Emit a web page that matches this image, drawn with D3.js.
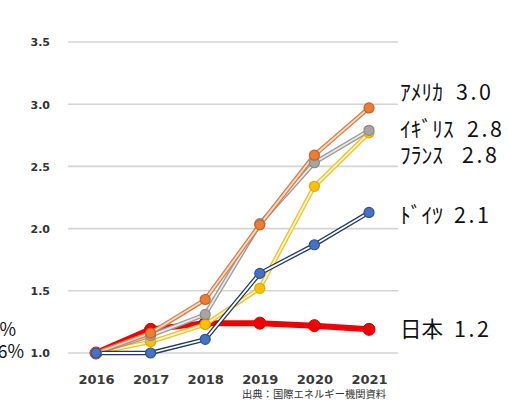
<!DOCTYPE html>
<html><head><meta charset="utf-8">
<script src="https://cdn.jsdelivr.net/npm/d3@7"></script>
<style>body{margin:0;background:#fff}svg{display:block}</style>
</head><body>
<script>
const years = ["2016","2017","2018","2019","2020","2021"];
const yTicks = [1.0, 1.5, 2.0, 2.5, 3.0, 3.5];
const japan   = [1.00, 1.19, 1.24, 1.24, 1.22, 1.19];
const america = [1.00, 1.16, 1.43, 2.03, 2.59, 2.97];
const uk      = [1.00, 1.14, 1.31, 2.04, 2.53, 2.79];
const france  = [1.00, 1.09, 1.23, 1.52, 2.34, 2.77];
const germany = [1.00, 1.00, 1.11, 1.64, 1.87, 2.13];
const labelNames = ["ｱﾒﾘｶ", "ｲｷﾞﾘｽ", "ﾌﾗﾝｽ", "ﾄﾞｲﾂ", "日本"];
const labelValues = ["3.0", "2.8", "2.8", "2.1", "1.2"];
const source = "出典：国際エネルギー機関資料";

const W = 508, H = 405;
const svg = d3.select("body").append("svg").attr("width", W).attr("height", H);

const x = d3.scalePoint().domain(years).range([96, 369]);
const y = d3.scaleLinear().domain([1.0, 3.5]).range([353, 42]);

// gridlines
svg.append("g").selectAll("line").data(yTicks).join("line")
  .attr("x1", 68).attr("x2", 398)
  .attr("y1", d => y(d)).attr("y2", d => y(d))
  .attr("stroke", "#d4d4d4").attr("stroke-width", 1.6);

// y axis labels
const yAxis = d3.axisLeft(y).tickValues(yTicks).tickFormat(d3.format(".1f")).tickSize(0).tickPadding(0);
svg.append("g").attr("transform", "translate(50,0)").call(yAxis)
  .call(g => g.select(".domain").remove())
  .selectAll("text").attr("font-family", "DejaVu Sans").attr("font-weight", "bold")
  .attr("font-size", 11).attr("fill", "#333").attr("dy", "0.36em");

// x axis labels
const xAxis = d3.axisBottom(x).tickSize(0).tickPadding(0);
svg.append("g").attr("transform", "translate(0,372)").call(xAxis)
  .call(g => g.select(".domain").remove())
  .selectAll("text").attr("font-family", "DejaVu Sans").attr("font-weight", "bold")
  .attr("font-size", 13).attr("fill", "#3a3a3a").attr("dy", "0.9em");

const line = d3.line().x((d, i) => x(years[i])).y(d => y(d));

// Japan (drawn first, thick red)
svg.append("path").attr("d", line(japan)).attr("fill", "none")
  .attr("stroke", "#f00000").attr("stroke-width", 6).attr("stroke-linejoin", "round");
svg.append("g").selectAll("circle").data(japan).join("circle")
  .attr("cx", (d, i) => x(years[i])).attr("cy", d => y(d)).attr("r", 6)
  .attr("fill", "#f00000").attr("stroke", "#d00000").attr("stroke-width", 1);

const series = [
  {v: france,  outer: "#f2c12e", inner: "#fff6c8", fill: "#ffc000", stroke: "#e0a800"},
  {v: uk,      outer: "#9a9a9a", inner: "#e8e8e8", fill: "#a5a5a5", stroke: "#8a8a8a"},
  {v: america, outer: "#d8804a", inner: "#f7dac6", fill: "#ed7d31", stroke: "#c4622a"},
  {v: germany, outer: "#1f3864", inner: "#ffffff", fill: "#4472c4", stroke: "#2f528f"}
];

series.forEach(s => {
  svg.append("path").attr("d", line(s.v)).attr("fill", "none")
    .attr("stroke", s.outer).attr("stroke-width", 4.4).attr("stroke-linejoin", "round");
  svg.append("path").attr("d", line(s.v)).attr("fill", "none")
    .attr("stroke", s.inner).attr("stroke-width", 1.8).attr("stroke-linejoin", "round");
});
series.forEach(s => {
  svg.append("g").selectAll("circle").data(s.v).join("circle")
    .attr("cx", (d, i) => x(years[i])).attr("cy", d => y(d)).attr("r", 5)
    .attr("fill", s.fill).attr("stroke", s.stroke).attr("stroke-width", 1.2);
});

// right labels
const labelBaselines = [100, 137, 163, 223, 337];
const valueX = [456, 467, 462, 454, 454];
const lg = svg.append("g").attr("font-family", "Noto Sans CJK JP").attr("fill", "#111");
labelNames.forEach((n, i) => {
  lg.append("text").attr("x", 400).attr("y", labelBaselines[i]).attr("font-size", 21.5).text(n);
  lg.append("text").attr("x", valueX[i]).attr("y", labelBaselines[i]).attr("font-size", 21.5)
    .attr("letter-spacing", 2.6).text(labelValues[i]);
});

// cut-off text at left edge
svg.append("text").attr("x", 16).attr("y", 336).attr("text-anchor", "end")
  .attr("font-family", "Noto Sans CJK JP").attr("font-size", 18).attr("fill", "#111").text("%");
svg.append("text").attr("x", 24).attr("y", 358).attr("text-anchor", "end")
  .attr("font-family", "Noto Sans CJK JP").attr("font-size", 18).attr("fill", "#111").text("6%");

// source
svg.append("text").attr("x", 242).attr("y", 398)
  .attr("font-family", "Noto Sans CJK JP").attr("font-size", 10.3).attr("fill", "#333").text(source);
</script>
</body></html>
